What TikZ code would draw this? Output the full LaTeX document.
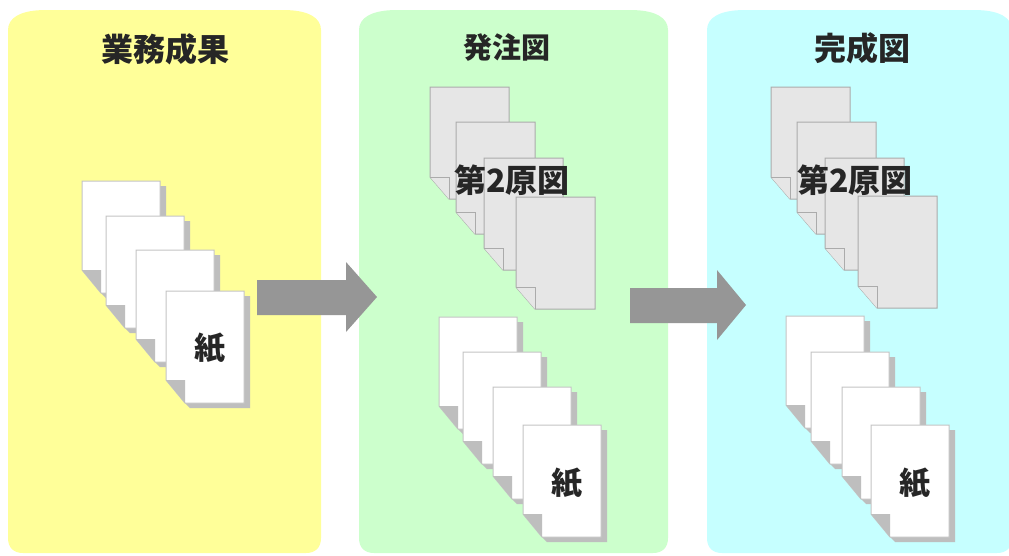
\documentclass[tikz,border=0pt]{standalone}
\usepackage{fontspec}
\newfontfamily\jp{Noto Sans CJK JP}
\definecolor{panelY}{HTML}{FFFF99}
\definecolor{panelG}{HTML}{CCFFCC}
\definecolor{panelC}{HTML}{C6FFFF}
\definecolor{arrowgray}{HTML}{969696}
\definecolor{shadowgray}{HTML}{BEBEBE}
\definecolor{edgegray}{HTML}{C4C4C4}
\definecolor{sheetgray}{HTML}{E6E6E6}
\tikzset{
  titlelabel/.style={font=\jp\bfseries\fontsize{32}{32}\selectfont,text=black!85,inner sep=0pt},
  smalltitle/.style={font=\jp\bfseries\fontsize{29}{29}\selectfont,text=black!85,inner sep=0pt},
  seclabel/.style={font=\jp\bfseries\fontsize{32}{32}\selectfont,text=black!85,inner sep=0pt},
  paperlabel/.style={font=\jp\bfseries\fontsize{31}{31}\selectfont,text=black!85,inner sep=0pt},
  blockarrow/.style={fill=arrowgray,draw=none},
  whitesheet/.style={fill=white,draw=edgegray,line width=1pt,line join=miter},
  whitefold/.style={fill=shadowgray,draw=none},
  graysheet/.style={fill=sheetgray,draw=shadowgray!90!black,line width=1pt},
  shadowpart/.style={fill=shadowgray,draw=none},
}
% panel: left, right, colour
\newcommand{\panelshape}[3]{%
  \fill[#3] (#1,30) .. controls (#1,18) and (#1+12,10) .. (#1+38,10)
    -- (#2-38,10) .. controls (#2-12,10) and (#2,18) .. (#2,30)
    -- (#2,538) .. controls (#2,548) and (#2-6,553) .. (#2-15,553)
    -- (#1+15,553) .. controls (#1+6,553) and (#1,548) .. (#1,538) -- cycle;}
% sheet body: left, top
\newcommand{\whitepaper}[2]{%
  \fill[shadowpart] (#1+78,#2+5) -- (#1+84,#2+5) -- (#1+84,#2+117) -- (#1+24,#2+117) -- (#1+19,#2+112) -- (#1+78,#2+112) -- cycle;
  \draw[whitesheet] (#1,#2) -- (#1+78,#2) -- (#1+78,#2+112) -- (#1+19,#2+112) -- (#1,#2+89) -- cycle;
  \fill[whitefold] (#1,#2+89) -- (#1+19,#2+89) -- (#1+19,#2+112) -- cycle;}
\newcommand{\graypaper}[2]{%
  \draw[graysheet] (#1,#2) -- (#1+79,#2) -- (#1+79,#2+112) -- (#1+19,#2+112) -- (#1,#2+90) -- cycle;
  \draw[graysheet] (#1,#2+90) -- (#1+19,#2+90) -- (#1+19,#2+112);}
\begin{document}
\begin{tikzpicture}[x=1pt,y=-1pt]
\useasboundingbox (0,0) rectangle (1009,555);
\fill[white] (0,0) rectangle (1009,555);
\panelshape{8}{321}{panelY}
\panelshape{359}{668}{panelG}
\panelshape{707}{1012}{panelC}
\node[titlelabel] (t1) at (165,49) {業務成果};
\node[smalltitle] (t2) at (507,48) {発注図};
\node[titlelabel] (t3) at (862,48) {完成図};
% first panel papers
\whitepaper{82}{181}\whitepaper{106}{216}\whitepaper{136}{250}\whitepaper{166}{291}
\node[paperlabel] (k1) at (210,348) {紙};
% second panel
\graypaper{430}{87}\graypaper{456}{122}\graypaper{484}{158}
\node[seclabel] (s2) at (512,180) {第2原図};
\graypaper{516}{197}
\whitepaper{439}{317}\whitepaper{463}{352}\whitepaper{493}{387}\whitepaper{523}{425}
\node[paperlabel] (k2) at (567,483) {紙};
% third panel
\graypaper{771}{87}\graypaper{797}{122}\graypaper{825}{158}
\node[seclabel] (s3) at (855,180) {第2原図};
\graypaper{858}{196}
\whitepaper{786}{316}\whitepaper{811}{352}\whitepaper{842}{387}\whitepaper{871}{425}
\node[paperlabel] (k3) at (915,483) {紙};
% block arrows
\fill[blockarrow] (257,280) -- (346,280) -- (346,262) -- (377,297) -- (346,332) -- (346,315) -- (257,315) -- cycle;
\fill[blockarrow] (630,288) -- (717,288) -- (717,270) -- (746,305) -- (717,340) -- (717,323) -- (630,323) -- cycle;
\end{tikzpicture}
\end{document}
